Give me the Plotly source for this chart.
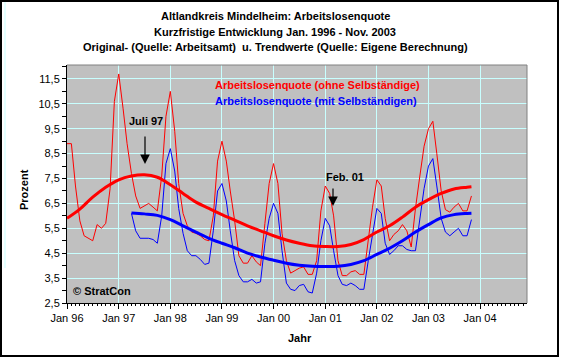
import pandas as pd
import plotly.graph_objects as go

# ---------------- data ----------------
months_red = pd.date_range("1996-01-01", periods=95, freq="MS")   # Jan 96 .. Nov 03
red_values = [
    8.9, 8.9, 7.2, 5.8, 5.2, 5.1, 5.0, 5.65, 5.5, 5.7, 7.1, 10.6,      # 1996
    11.7, 10.3, 8.9, 7.7, 6.8, 6.3, 6.4, 6.5, 6.35, 6.2, 7.6, 10.0,    # 1997
    11.0, 9.4, 7.3, 6.1, 5.6, 5.35, 5.3, 5.2, 5.05, 5.0, 6.0, 8.2,     # 1998
    9.0, 8.2, 7.0, 5.8, 4.4, 4.1, 4.1, 4.4, 4.15, 4.0, 5.7, 7.3,       # 1999
    8.1, 7.3, 5.3, 4.2, 3.7, 3.8, 3.9, 3.95, 3.65, 3.65, 4.2, 6.2,     # 2000
    7.2, 6.9, 6.0, 4.2, 3.6, 3.6, 3.75, 3.8, 3.65, 3.65, 5.1, 6.35,    # 2001
    7.45, 7.2, 5.9, 5.0, 5.25, 5.4, 5.65, 5.4, 4.75, 6.3, 7.6, 8.8,    # 2002
    9.5, 9.8, 8.5, 7.0, 6.25, 6.15, 6.35, 6.5, 6.2, 6.2, 6.8,          # 2003
]

months_blue = pd.date_range("1997-04-01", periods=80, freq="MS")  # Apr 97 .. Nov 03
blue_values = [
    6.1, 5.4, 5.1, 5.1, 5.1, 5.05, 4.9, 6.0, 8.1,                      # 1997
    8.7, 7.8, 6.3, 5.3, 4.6, 4.4, 4.4, 4.25, 4.05, 4.1, 5.4, 7.0,      # 1998
    7.3, 6.6, 5.4, 4.2, 3.6, 3.35, 3.35, 3.45, 3.3, 3.35, 4.9, 5.9,    # 1999
    6.5, 6.1, 4.6, 3.3, 3.05, 3.0, 3.2, 3.25, 2.95, 2.9, 3.7, 5.0,     # 2000
    5.9, 5.6, 4.6, 3.6, 3.25, 3.2, 3.3, 3.2, 3.05, 3.05, 4.2, 5.3,     # 2001
    6.3, 6.1, 4.9, 4.45, 4.6, 4.8, 4.8, 4.65, 4.6, 4.6, 5.9, 7.1,      # 2002
    8.0, 8.3, 7.2, 5.9, 5.35, 5.2, 5.35, 5.5, 5.2, 5.2, 5.85,          # 2003
]

trend_red_dates = [
    "1996-01-01", "1996-04-01", "1996-07-01", "1996-10-01",
    "1997-01-01", "1997-04-01", "1997-07-01", "1997-10-01",
    "1998-01-01", "1998-04-01", "1998-07-01", "1998-10-01",
    "1999-01-01", "1999-04-01", "1999-07-01", "1999-10-01",
    "2000-01-01", "2000-04-01", "2000-07-01", "2000-10-01",
    "2001-01-01", "2001-04-01", "2001-07-01", "2001-10-01",
    "2002-01-01", "2002-04-01", "2002-07-01", "2002-10-01",
    "2003-01-01", "2003-04-01", "2003-07-01", "2003-10-01", "2003-11-01",
]
trend_red_values = [
    5.9, 6.27, 6.75, 7.15,
    7.45, 7.6, 7.65, 7.55,
    7.25, 6.9, 6.55, 6.3,
    6.05, 5.83, 5.6, 5.4,
    5.2, 5.03, 4.9, 4.8,
    4.77, 4.77, 4.85, 5.05,
    5.35, 5.6, 5.95, 6.35,
    6.65, 6.9, 7.08, 7.15, 7.17,
]

trend_blue_dates = trend_red_dates[5:]
trend_blue_values = [
    6.12, 6.08, 6.02,
    5.85, 5.6, 5.35, 5.1,
    4.9, 4.72, 4.5, 4.35,
    4.22, 4.1, 4.02, 3.98,
    3.97, 3.98, 4.05, 4.2,
    4.45, 4.7, 5.0, 5.35,
    5.65, 5.92, 6.05, 6.1, 6.11,
]

title_lines = [
    "Altlandkreis Mindelheim: Arbeitslosenquote",
    "Kurzfristige Entwicklung Jan. 1996 - Nov. 2003",
    "Original- (Quelle: Arbeitsamt)  u. Trendwerte (Quelle: Eigene Berechnung)",
]
legend_red = "Arbeitslosenquote (ohne Selbständige)"
legend_blue = "Arbeitslosenquote (mit Selbständigen)"

# ---------------- layout geometry (pixels) ----------------
W, H = 561, 358
L, R, T, B = 67, 527, 65, 303
PW, PH = R - L, B - T


def px(x):
    return (x - L) / PW


def py(y):
    return (B - y) / PH


FONT = "Liberation Sans, Arial, sans-serif"
RED = "#FF0000"
BLUE = "#0000FF"

fig = go.Figure()
fig.add_trace(go.Scatter(x=months_red, y=red_values, mode="lines",
                         line=dict(color=RED, width=1), hoverinfo="skip"))
fig.add_trace(go.Scatter(x=months_blue, y=blue_values, mode="lines",
                         line=dict(color=BLUE, width=1), hoverinfo="skip"))
fig.add_trace(go.Scatter(x=trend_red_dates, y=trend_red_values, mode="lines",
                         line=dict(color=RED, width=3, shape="spline", smoothing=1.0),
                         hoverinfo="skip"))
fig.add_trace(go.Scatter(x=trend_blue_dates, y=trend_blue_values, mode="lines",
                         line=dict(color=BLUE, width=3, shape="spline", smoothing=1.0),
                         hoverinfo="skip"))

grid = "#C8FFFF"
fig.update_xaxes(
    type="date", range=["1996-01-01", "2004-11-28"],
    dtick="M12", tick0="1996-01-01", tickformat="%b %y",
    ticks="outside", ticklen=5, tickwidth=1, tickcolor="black",
    showline=True, linecolor="black", linewidth=1,
    showgrid=True, gridcolor=grid, gridwidth=1,
    minor=dict(dtick="M1", ticks="outside", ticklen=2, tickcolor="black", showgrid=False),
    tickfont=dict(family=FONT, size=11, color="black"),
    zeroline=False, fixedrange=True,
)
fig.update_yaxes(
    range=[2.5, 12.06], tick0=2.5, dtick=1, tickformat=".1f",
    ticks="outside", ticklen=4, tickwidth=1, tickcolor="black",
    showline=True, linecolor="black", linewidth=1,
    showgrid=True, gridcolor=grid, gridwidth=1,
    minor=dict(dtick=0.5, tick0=2.5, ticks="outside", ticklen=4, tickcolor="black", showgrid=False),
    tickfont=dict(family=FONT, size=11, color="black"),
    zeroline=False, fixedrange=True,
)

annotations = []
for txt, yy in zip(title_lines, [16, 32, 47]):
    annotations.append(dict(text="<b>%s</b>" % txt, x=px(275), y=py(yy), xref="paper", yref="paper",
                            showarrow=False, xanchor="center", yanchor="middle",
                            font=dict(family=FONT, size=11, color="black")))
annotations.append(dict(text="<b>%s</b>" % legend_red, x=px(213), y=py(85), xref="paper", yref="paper",
                        showarrow=False, xanchor="left", yanchor="middle",
                        font=dict(family=FONT, size=11, color=RED)))
annotations.append(dict(text="<b>%s</b>" % legend_blue, x=px(213), y=py(101), xref="paper", yref="paper",
                        showarrow=False, xanchor="left", yanchor="middle",
                        font=dict(family=FONT, size=11, color=BLUE)))
annotations.append(dict(text="<b>Juli 97</b>", x=px(146), y=py(121), xref="paper", yref="paper",
                        showarrow=False, xanchor="center", yanchor="middle",
                        font=dict(family=FONT, size=11, color="black")))
annotations.append(dict(text="", x=px(145), y=py(164), xref="paper", yref="paper",
                        showarrow=True, ax=0, ay=-29, arrowhead=2, arrowsize=1.6, arrowwidth=1.2,
                        arrowcolor="black"))
annotations.append(dict(text="<b>Feb. 01</b>", x=px(345), y=py(177), xref="paper", yref="paper",
                        showarrow=False, xanchor="center", yanchor="middle",
                        font=dict(family=FONT, size=11, color="black")))
annotations.append(dict(text="", x=px(333), y=py(206), xref="paper", yref="paper",
                        showarrow=True, ax=0, ay=-19, arrowhead=2, arrowsize=1.6, arrowwidth=1.2,
                        arrowcolor="black"))
annotations.append(dict(text="<b>© StratCon</b>", x=px(71), y=py(291), xref="paper", yref="paper",
                        showarrow=False, xanchor="left", yanchor="middle",
                        font=dict(family=FONT, size=11, color="black")))
annotations.append(dict(text="<b>Jahr</b>", x=px(300), y=py(338), xref="paper", yref="paper",
                        showarrow=False, xanchor="center", yanchor="middle",
                        font=dict(family=FONT, size=11, color="black")))
annotations.append(dict(text="<b>Prozent</b>", x=px(24), y=py(190), xref="paper", yref="paper",
                        showarrow=False, xanchor="center", yanchor="middle", textangle=-90,
                        font=dict(family=FONT, size=11, color="black")))

shapes = [
    # plot-area frame top and right (grey)
    dict(type="line", xref="paper", yref="paper", x0=0, x1=1, y0=1, y1=1,
         line=dict(color="#808080", width=1)),
    dict(type="line", xref="paper", yref="paper", x0=1, x1=1, y0=0, y1=1,
         line=dict(color="#808080", width=1)),
    # outer chart border
    dict(type="rect", xref="paper", yref="paper", x0=px(1), x1=px(558), y0=py(356), y1=py(1),
         line=dict(color="black", width=2), layer="above"),
    dict(type="line", xref="paper", yref="paper", x0=px(5), x1=px(5), y0=py(2), y1=py(268),
         line=dict(color="#C8FFFF", width=1)),
]

fig.update_layout(
    width=W, height=H, autosize=False,
    margin=dict(l=L, r=W - R, t=T, b=H - B, pad=0),
    paper_bgcolor="white", plot_bgcolor="#C0C0C0",
    showlegend=False, separators=",.",
    font=dict(family=FONT, size=11, color="black"),
    annotations=annotations, shapes=shapes,
    hovermode=False,
)

fig.write_html("out.html", config=dict(displayModeBar=False, staticPlot=True),
               post_script="document.body.style.margin='0';document.body.style.padding='0';"
                           "document.body.style.overflow='hidden';")
